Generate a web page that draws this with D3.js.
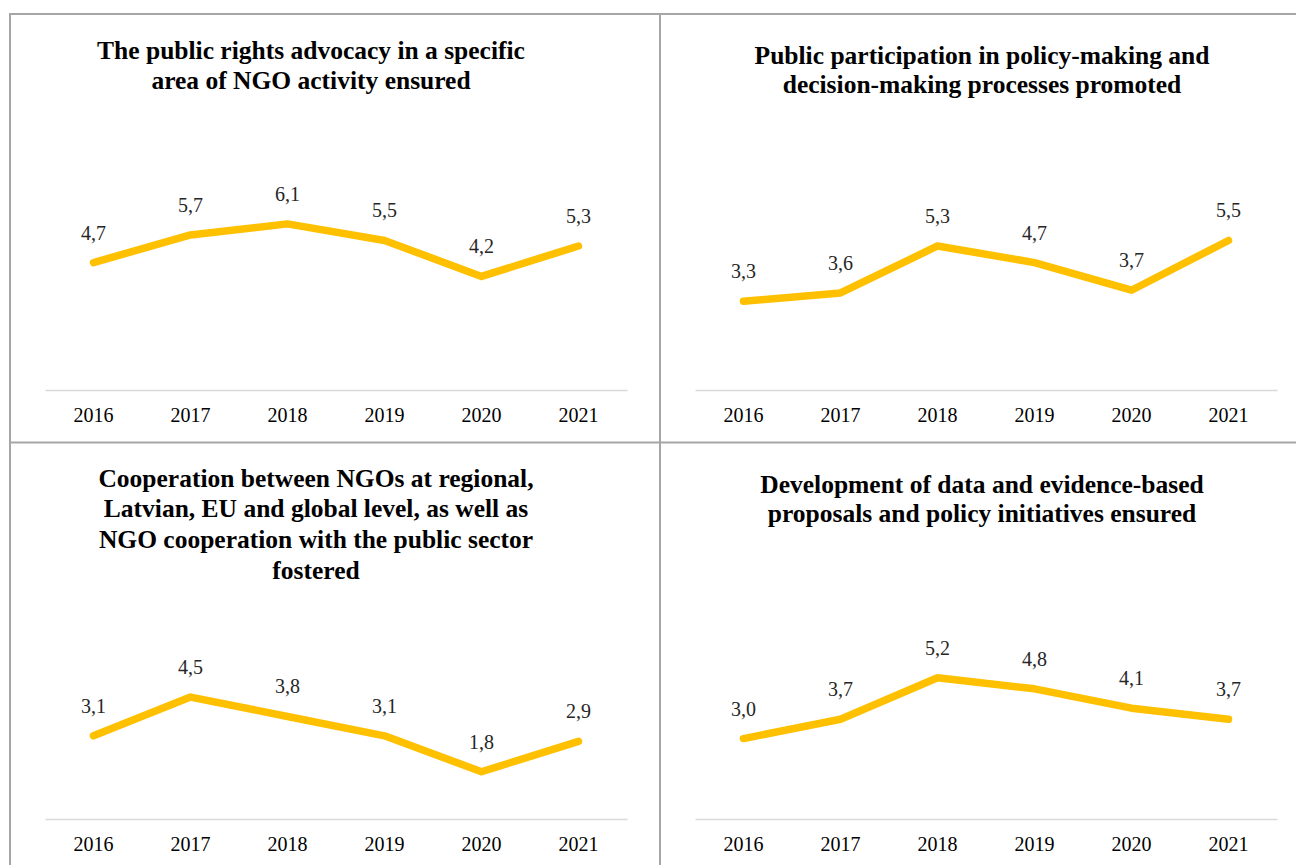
<!DOCTYPE html>
<html>
<head>
<meta charset="utf-8">
<script src="https://cdn.jsdelivr.net/npm/d3@7"></script>
<style>
  html, body { margin: 0; padding: 0; background: #ffffff; }
  svg { display: block; }
</style>
</head>
<body>
<svg id="chart" width="1296" height="865"></svg>
<script>
// ---- Data ----
const years = ["2016", "2017", "2018", "2019", "2020", "2021"];

const titleAdvocacy = ["The public rights advocacy in a specific", "area of NGO activity ensured"];
const titleParticipation = ["Public participation in policy-making and", "decision-making processes promoted"];
const titleCooperation = ["Cooperation between NGOs at regional,", "Latvian, EU and global level, as well as", "NGO cooperation with the public sector", "fostered"];
const titleData = ["Development of data and evidence-based", "proposals and policy initiatives ensured"];

const valuesAdvocacy = [4.7, 5.7, 6.1, 5.5, 4.2, 5.3];
const valuesParticipation = [3.3, 3.6, 5.3, 4.7, 3.7, 5.5];
const valuesCooperation = [3.1, 4.5, 3.8, 3.1, 1.8, 2.9];
const valuesData = [3.0, 3.7, 5.2, 4.8, 4.1, 3.7];

const yDomain = [0, 7];

const FONT = "'Times New Roman', 'Liberation Serif', Tinos, serif";

// ---- Layout ----
const svg = d3.select("#chart");
const panels = [
  { x0: 10,  y0: 14,  titleX: 311, titleY: 50,  lh: 30.7, title: titleAdvocacy, values: valuesAdvocacy },
  { x0: 660, y0: 14,  titleX: 982, titleY: 55,  lh: 29.3, title: titleParticipation, values: valuesParticipation },
  { x0: 10,  y0: 443, titleX: 316, titleY: 478, lh: 30.7, title: titleCooperation, values: valuesCooperation },
  { x0: 660, y0: 443, titleX: 982, titleY: 484, lh: 29.3, title: titleData, values: valuesData }
];

const fmt = v => d3.format(".1f")(v).replace(".", ",");

panels.forEach(p => {
  const g = svg.append("g");
  const left = p.x0 + 35, right = left + 582;
  const axisY = p.y0 + 376;

  const x = d3.scaleBand().domain(years).range([left, right]);
  const y = d3.scaleLinear().domain(yDomain).range([axisY + 2.5, axisY + 2.5 - 193.5]);

  // title
  const t = g.append("text")
    .attr("text-anchor", "middle")
    .attr("font-family", FONT)
    .attr("font-weight", "bold")
    .attr("font-size", 25.5)
    .attr("fill", "#000");
  p.title.forEach((line, i) => {
    t.append("tspan")
      .attr("x", p.titleX)
      .attr("y", p.titleY + i * p.lh + 8.5)
      .text(line);
  });

  // axis
  const axis = d3.axisBottom(x).tickSize(0).tickPadding(0);
  const ag = g.append("g").attr("transform", `translate(0,${axisY})`).call(axis)
    .attr("font-family", FONT).attr("font-size", 20);
  ag.select(".domain").attr("stroke", "#d9d9d9").attr("stroke-width", 1.5);
  ag.selectAll(".tick text")
    .attr("dy", null)
    .attr("y", 32)
    .attr("fill", "#000");

  // line
  const line = d3.line()
    .x((d, i) => x(years[i]) + x.bandwidth() / 2)
    .y(d => y(d));
  g.append("path")
    .datum(p.values)
    .attr("d", line)
    .attr("fill", "none")
    .attr("stroke", "#FFC000")
    .attr("stroke-width", 7.5)
    .attr("stroke-linecap", "round")
    .attr("stroke-linejoin", "round");

  // labels
  g.selectAll(".lbl")
    .data(p.values)
    .join("text")
    .attr("class", "lbl")
    .attr("text-anchor", "middle")
    .attr("font-family", FONT)
    .attr("font-size", 20)
    .attr("x", (d, i) => x(years[i]) + x.bandwidth() / 2)
    .attr("y", d => y(d) - 23)
    .attr("fill", "#262626")
    .text(d => fmt(d));
});

// borders
const bc = "#a6a6a6";
svg.append("rect").attr("x", 10).attr("y", 14).attr("width", 1300).attr("height", 860)
  .attr("fill", "none").attr("stroke", bc).attr("stroke-width", 2);
svg.append("line").attr("x1", 660).attr("x2", 660).attr("y1", 14).attr("y2", 870)
  .attr("stroke", bc).attr("stroke-width", 2);
svg.append("line").attr("x1", 10).attr("x2", 1310).attr("y1", 442.5).attr("y2", 442.5)
  .attr("stroke", bc).attr("stroke-width", 2);
</script>
</body>
</html>
